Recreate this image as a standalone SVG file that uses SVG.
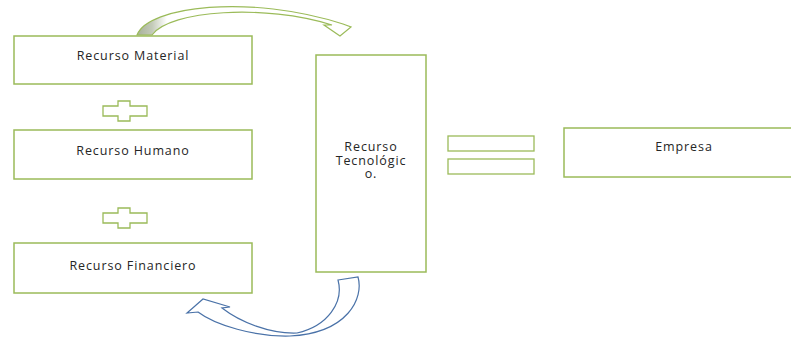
<svg xmlns="http://www.w3.org/2000/svg" width="791" height="339" viewBox="0 0 791 339">
<style>
.box{fill:#fff;stroke:#9bbb59;stroke-width:1.5}
.sym{fill:#fff;stroke:#9bbb59;stroke-width:1.3}
.t{font-family:"Open Sans","Liberation Sans",sans-serif;font-size:12.5px;fill:#262626;text-anchor:middle;letter-spacing:0.9px}
</style>
<defs>
<linearGradient id="g1" x1="0" y1="0" x2="1" y2="0">
<stop offset="0" stop-color="#a7b199"/>
<stop offset="0.07" stop-color="#c3cab8"/>
<stop offset="0.14" stop-color="#ffffff"/>
</linearGradient>
</defs>
<rect width="791" height="339" fill="#fff"/>
<g id="connectors">
<path d="M137,35 C148,6 250,-6 343,24 L351,27 L340,36 L324,25 L332,25 C265,4 170,10 152,35 Z" fill="url(#g1)" stroke="#9bbb59" stroke-width="1.2"/>
<path d="M338,280 L358,277 C364,298 348,333 290,336 C255,337 215,325 198,312 L187,313 L203,299 L230,307 L222,308 C240,322 270,334 297,333 C328,326 344,302 338,280 Z" fill="#fff" stroke="#4a72a8" stroke-width="1.2"/>
</g>
<g id="material">
<rect class="box" x="14" y="36" width="238" height="48"/>
<text class="t" x="133" y="60">Recurso Material</text>
</g>
<g id="plus1">
<path class="sym" d="M118,101 H130 V106 H147 V116 H130 V121 H118 V116 H103 V106 H118 Z"/>
</g>
<g id="humano">
<rect class="box" x="14" y="130" width="238" height="49"/>
<text class="t" x="133" y="155">Recurso Humano</text>
</g>
<g id="plus2">
<path class="sym" d="M118,208 H130 V213 H147 V223 H130 V228 H118 V223 H103 V213 H118 Z"/>
</g>
<g id="financiero">
<rect class="box" x="14" y="243" width="238" height="50"/>
<text class="t" x="133" y="270">Recurso Financiero</text>
</g>
<g id="tecnologico">
<rect class="box" x="316" y="55" width="110" height="217"/>
<text class="t" x="371" y="151">Recurso</text>
<text class="t" x="371" y="164.5">Tecnológic</text>
<text class="t" x="371" y="178">o.</text>
</g>
<g id="igual">
<rect class="sym" x="448" y="136" width="86" height="15"/>
<rect class="sym" x="448" y="159" width="86" height="15"/>
</g>
<g id="empresa">
<rect class="box" x="564" y="128" width="240" height="49"/>
<text class="t" x="684" y="151">Empresa</text>
</g>
</svg>
